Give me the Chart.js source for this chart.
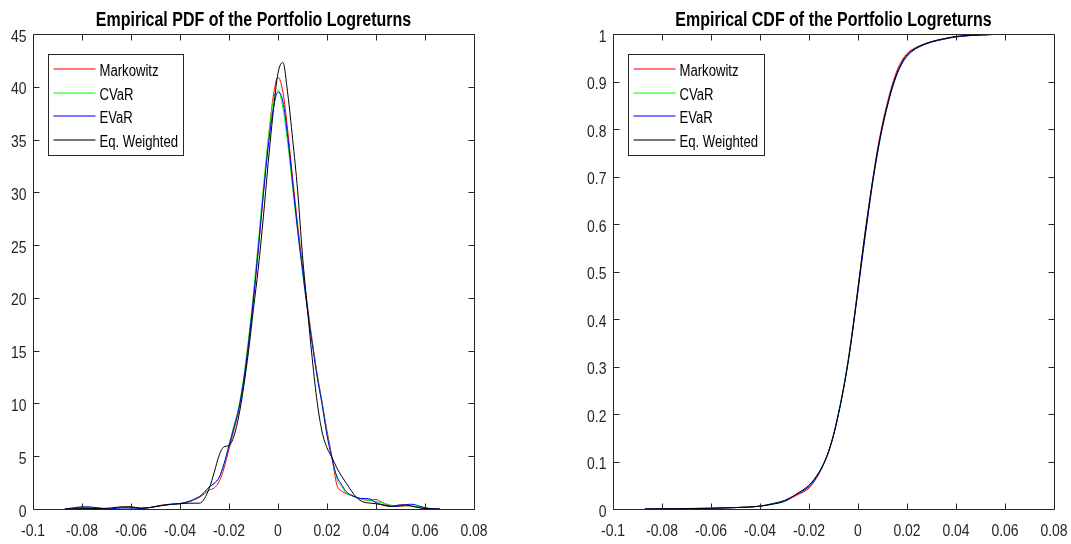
<!DOCTYPE html>
<html>
<head>
<meta charset="utf-8">
<title>Portfolio Logreturns</title>
<script src="https://cdn.jsdelivr.net/npm/chart.js@4/dist/chart.umd.min.js"></script>
<style>
  body { margin: 0; background: #fff; }
  .panel { position: absolute; top: 0; height: 544px; }
  #pdfBox { left: 0; width: 536px; }
  #cdfBox { left: 536px; width: 535px; }
</style>
</head>
<body>
<div class="panel" id="pdfBox"><canvas id="pdfChart"></canvas></div>
<div class="panel" id="cdfBox"><canvas id="cdfChart"></canvas></div>
<script>
const seriesNames = ["Markowitz", "CVaR", "EVaR", "Eq. Weighted"];
const seriesColors = ["#ff0000", "#00ff00", "#0000ff", "#000000"];

const xTicks = [-0.1, -0.08, -0.06, -0.04, -0.02, 0, 0.02, 0.04, 0.06, 0.08];
const pdfYTicks = [0, 5, 10, 15, 20, 25, 30, 35, 40, 45];
const cdfYTicks = [0, 0.1, 0.2, 0.3, 0.4, 0.5, 0.6, 0.7, 0.8, 0.9, 1];

// kernel density estimates, sampled on a common grid of logreturns
const pdfX = [-0.087, -0.084, -0.080, -0.076, -0.072, -0.068, -0.064, -0.060, -0.056, -0.052, -0.048, -0.044, -0.040,
  -0.036, -0.034, -0.032, -0.030, -0.028, -0.026, -0.024, -0.022, -0.020, -0.018, -0.016, -0.014, -0.012, -0.010,
  -0.008, -0.006, -0.004, -0.002, 0, 0.002, 0.004, 0.006, 0.008, 0.010, 0.012, 0.014, 0.016, 0.018, 0.020, 0.022,
  0.024, 0.026, 0.028, 0.030, 0.032, 0.034, 0.036, 0.038, 0.040, 0.042, 0.044, 0.046, 0.048, 0.050, 0.052, 0.054,
  0.056, 0.058, 0.060, 0.062, 0.064, 0.066];
const pdfMarkowitz = [0, 0.06, 0.15, 0.15, 0.06, 0.05, 0.18, 0.2, 0.08, 0.15, 0.35, 0.45, 0.5,
  0.7, 0.9, 1.1, 1.45, 1.8, 2.0, 2.6, 3.9, 5.7, 7.5, 9.4, 12.0, 15.6, 19.8, 24.6, 29.8, 34.8, 39.0,
  40.9,
  39.5, 35.8, 31.3, 27.0, 23.0, 19.3, 15.9, 12.8, 10.1, 7.4, 5.0, 2.3, 1.7, 1.45, 1.3, 1.1, 0.95, 0.85, 0.85, 0.9,
  0.7, 0.45, 0.3, 0.25, 0.25, 0.3, 0.3, 0.2, 0.12, 0.05, 0.02, 0, 0];
const pdfCVaR = [0, 0.1, 0.2, 0.15, 0.05, 0.03, 0.12, 0.12, 0.05, 0.15, 0.3, 0.42, 0.52,
  0.75, 0.95, 1.2, 1.6, 2.1, 2.4, 3.0, 4.3, 6.1, 7.9, 9.7, 12.5, 16.2, 20.5, 25.4, 30.4, 35.0, 38.6,
  39.7,
  38.0, 34.6, 30.4, 26.3, 22.5, 18.9, 15.7, 12.6, 10.0, 7.1, 4.9, 2.9, 2.1, 1.5, 1.25, 1.1, 0.95, 0.85, 0.78, 0.7,
  0.62, 0.5, 0.38, 0.3, 0.3, 0.32, 0.3, 0.25, 0.2, 0.1, 0.05, 0.01, 0];
const pdfEVaR = [0, 0.08, 0.2, 0.18, 0.06, 0.03, 0.1, 0.1, 0.05, 0.15, 0.32, 0.42, 0.52,
  0.75, 0.95, 1.2, 1.6, 2.1, 2.45, 3.0, 4.3, 6.0, 7.7, 9.5, 12.2, 15.8, 20.0, 24.8, 29.8, 34.3, 37.8,
  39.5,
  38.6, 35.2, 30.8, 26.5, 22.6, 18.9, 15.6, 12.5, 9.9, 7.0, 4.8, 3.1, 2.3, 1.6, 1.3, 1.1, 1.0, 1.0, 0.9, 0.6,
  0.45, 0.35, 0.25, 0.25, 0.3, 0.4, 0.45, 0.4, 0.25, 0.12, 0.05, 0.02, 0];
const pdfEqWeighted = [0, 0.02, 0.05, 0.05, 0.05, 0.1, 0.2, 0.2, 0.08, 0.15, 0.3, 0.45, 0.5,
  0.55, 0.55, 0.55, 1.0, 2.0, 3.5, 5.1, 5.9, 6.0, 6.9, 8.8, 11.6, 15.0, 19.0, 22.9, 27.6, 32.8, 37.5,
  41.3,
  42.3, 39.3, 35.0, 30.2, 24.0, 19.0, 14.2, 10.1, 7.3, 5.8, 4.9, 3.9, 3.1, 2.4, 1.7, 1.1, 0.75, 0.6, 0.55, 0.5,
  0.42, 0.3, 0.25, 0.3, 0.4, 0.38, 0.3, 0.2, 0.1, 0.05, 0.02, 0, 0];

// empirical distribution functions
const cdfX = [-0.087, -0.08, -0.07, -0.06, -0.05, -0.045, -0.04, -0.035, -0.03, -0.025, -0.02, -0.018, -0.016,
  -0.014, -0.012, -0.01, -0.008, -0.006, -0.004, -0.002, 0, 0.002, 0.004, 0.006, 0.008, 0.01, 0.012, 0.014,
  0.016, 0.018, 0.02, 0.022, 0.025, 0.03, 0.035, 0.04, 0.05, 0.06, 0.066];
const cdfMarkowitz = [0, 0.0005, 0.001, 0.0015, 0.003, 0.004, 0.006, 0.011, 0.017, 0.029, 0.044, 0.057, 0.073,
  0.094, 0.12, 0.155, 0.2, 0.252, 0.314, 0.388, 0.467, 0.548, 0.624, 0.694, 0.758, 0.812, 0.856, 0.894,
  0.924, 0.945, 0.959, 0.967, 0.975, 0.984, 0.99, 0.994, 0.998, 0.9995, 1];
const cdfCVaR = [0, 0.0005, 0.001, 0.0015, 0.003, 0.004, 0.006, 0.011, 0.018, 0.031, 0.047, 0.06, 0.076,
  0.096, 0.122, 0.157, 0.202, 0.254, 0.315, 0.386, 0.463, 0.542, 0.618, 0.689, 0.75, 0.805, 0.85, 0.888,
  0.917, 0.939, 0.954, 0.964, 0.973, 0.983, 0.989, 0.994, 0.998, 0.9995, 1];
const cdfEVaR = [0, 0.0005, 0.001, 0.0015, 0.003, 0.004, 0.006, 0.011, 0.018, 0.031, 0.047, 0.059, 0.075,
  0.095, 0.121, 0.156, 0.2, 0.251, 0.311, 0.382, 0.459, 0.538, 0.614, 0.687, 0.75, 0.804, 0.848, 0.886,
  0.916, 0.938, 0.953, 0.963, 0.973, 0.983, 0.989, 0.994, 0.998, 0.9995, 1];
const cdfEqWeighted = [0, 0.0003, 0.0008, 0.0015, 0.003, 0.004, 0.006, 0.01, 0.016, 0.032, 0.05, 0.062, 0.077,
  0.096, 0.121, 0.155, 0.199, 0.25, 0.31, 0.383, 0.464, 0.546, 0.622, 0.692, 0.755, 0.807, 0.851, 0.889,
  0.919, 0.941, 0.956, 0.965, 0.974, 0.984, 0.99, 0.995, 0.998, 0.9997, 1];

const FONT = "'Liberation Sans', Arial, sans-serif";
const NARROW = 0.82;   // Helvetica Narrow look
const INK = "#262626";
const TICK_LEN = 6;

function fmt(v) {
  return String(Number(v.toFixed(2)));
}

function narrowText(ctx, text, x, y, align, font) {
  ctx.save();
  ctx.font = font;
  ctx.textAlign = align;
  ctx.textBaseline = "alphabetic";
  ctx.translate(x, y);
  ctx.scale(NARROW, 1);
  ctx.fillText(text, 0, 0);
  ctx.restore();
}

// box, inward ticks on all four sides, tick labels, title and legend
const matlabAxes = {
  id: "matlabAxes",
  afterDraw(chart, args, opts) {
    const ctx = chart.ctx;
    const a = chart.chartArea;
    const xs = chart.scales.x, ys = chart.scales.y;
    const L = Math.round(a.left) + 0.5, R = Math.round(a.right) + 0.5;
    const T = Math.round(a.top) + 0.5, B = Math.round(a.bottom) + 0.5;
    ctx.save();
    ctx.strokeStyle = INK;
    ctx.lineWidth = 1;
    ctx.beginPath();
    ctx.rect(L, T, R - L, B - T);
    xs.ticks.forEach(t => {
      const px = Math.round(xs.getPixelForValue(t.value)) + 0.5;
      ctx.moveTo(px, B); ctx.lineTo(px, B - TICK_LEN);
      ctx.moveTo(px, T); ctx.lineTo(px, T + TICK_LEN);
    });
    ys.ticks.forEach(t => {
      const py = Math.round(ys.getPixelForValue(t.value)) + 0.5;
      ctx.moveTo(L, py); ctx.lineTo(L + TICK_LEN, py);
      ctx.moveTo(R, py); ctx.lineTo(R - TICK_LEN, py);
    });
    ctx.stroke();

    ctx.fillStyle = INK;
    const tickFont = "17px " + FONT;
    xs.ticks.forEach(t => {
      narrowText(ctx, fmt(t.value), xs.getPixelForValue(t.value), a.bottom + 27, "center", tickFont);
    });
    ys.ticks.forEach(t => {
      narrowText(ctx, fmt(t.value), a.left - 6.5, ys.getPixelForValue(t.value) + 7.5, "right", tickFont);
    });

    ctx.fillStyle = "#000";
    narrowText(ctx, opts.title, (a.left + a.right) / 2, 26, "center", "bold 19.5px " + FONT);

    // legend box
    const bx = Math.round(a.left) + 15.5, by = Math.round(a.top) + 20.5;
    ctx.fillStyle = "#fff";
    ctx.fillRect(bx, by, opts.legendWidth, 101);
    ctx.strokeStyle = INK;
    ctx.strokeRect(bx, by, opts.legendWidth, 101);
    seriesNames.forEach((name, i) => {
      const ry = Math.round(by + 14.5 + i * 23.7);
      ctx.save();
      ctx.globalAlpha = 0.7;
      ctx.strokeStyle = seriesColors[i];
      ctx.lineWidth = 1.4;
      ctx.beginPath();
      ctx.moveTo(bx + 5, ry);
      ctx.lineTo(bx + 47, ry);
      ctx.stroke();
      ctx.restore();
      ctx.fillStyle = "#000";
      narrowText(ctx, name, bx + 51, ry + 7, "left", "16px " + FONT);
    });
    ctx.restore();
  }
};

function makeChart(id, xs, series, yTicks, title, pad, legendWidth) {
  return new Chart(document.getElementById(id), {
    type: "line",
    data: {
      datasets: series.map((ys, i) => ({
        label: seriesNames[i],
        data: xs.map((x, k) => ({ x: x, y: ys[k] })),
        borderColor: seriesColors[i],
        borderWidth: 1,
        pointRadius: 0,
        cubicInterpolationMode: "monotone",
        fill: false,
        order: series.length - i
      }))
    },
    options: {
      responsive: true,
      maintainAspectRatio: false,
      animation: false,
      devicePixelRatio: 1,
      layout: { padding: { top: 34, left: pad.left, right: pad.right, bottom: 0 } },
      plugins: {
        legend: { display: false },
        tooltip: { enabled: false },
        matlabAxes: { title: title, legendWidth: legendWidth }
      },
      scales: {
        x: {
          type: "linear",
          min: xTicks[0],
          max: xTicks[xTicks.length - 1],
          afterBuildTicks: s => { s.ticks = xTicks.map(v => ({ value: v })); },
          afterFit: s => { s.height = 35; },
          grid: { display: false, drawTicks: false },
          border: { display: false },
          ticks: { display: false }
        },
        y: {
          type: "linear",
          min: yTicks[0],
          max: yTicks[yTicks.length - 1],
          afterBuildTicks: s => { s.ticks = yTicks.map(v => ({ value: v })); },
          afterFit: s => { s.width = 33; },
          grid: { display: false, drawTicks: false },
          border: { display: false },
          ticks: { display: false }
        }
      }
    },
    plugins: [matlabAxes]
  });
}

makeChart("pdfChart", pdfX, [pdfMarkowitz, pdfCVaR, pdfEVaR, pdfEqWeighted], pdfYTicks,
  "Empirical PDF of the Portfolio Logreturns", { left: 0, right: 62 }, 135);
makeChart("cdfChart", cdfX, [cdfMarkowitz, cdfCVaR, cdfEVaR, cdfEqWeighted], cdfYTicks,
  "Empirical CDF of the Portfolio Logreturns", { left: 44, right: 17 }, 136);
</script>
</body>
</html>
